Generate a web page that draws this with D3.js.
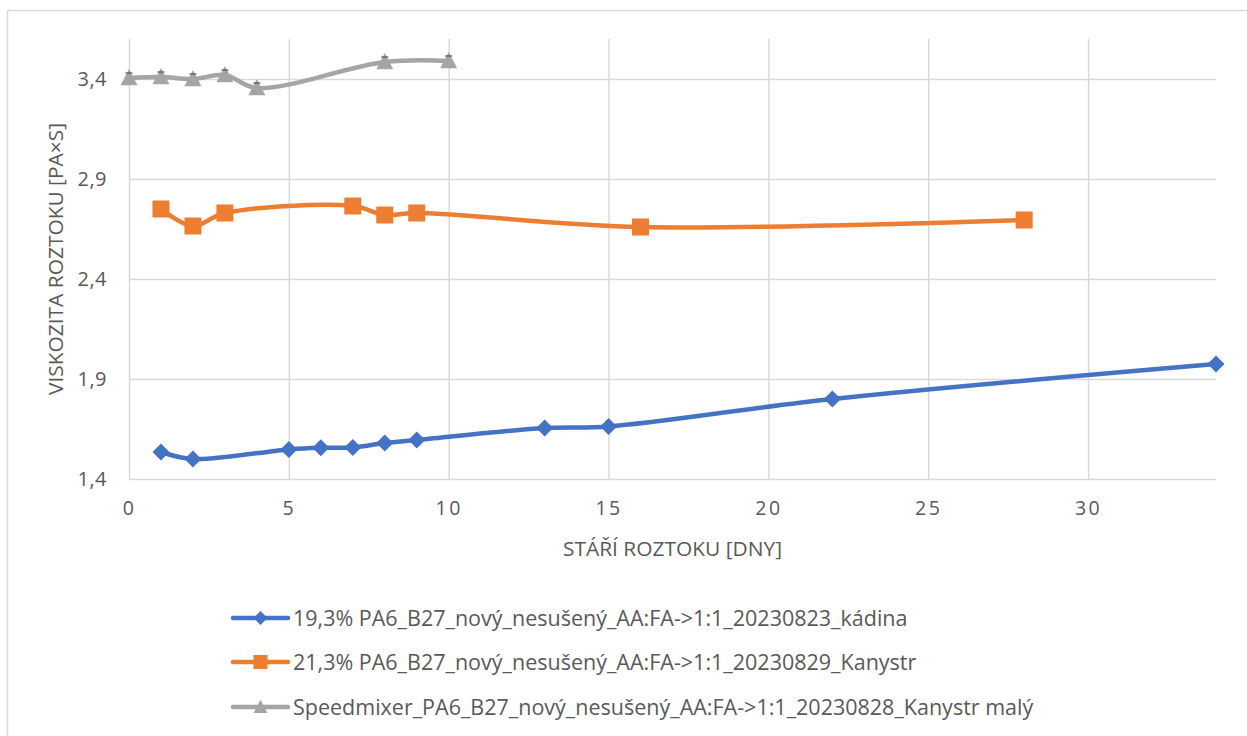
<!DOCTYPE html>
<html>
<head>
<meta charset="utf-8">
<script src="https://cdn.jsdelivr.net/npm/d3@7"></script>
<style>
  html, body { margin: 0; padding: 0; background: #fff; }
  svg { display: block; }
  text { font-family: "Open Sans", "Noto Sans", sans-serif; fill: #595959; }
</style>
</head>
<body>
<svg id="chart" width="1247" height="736"></svg>
<script>
// Age of solution (days) and measured viscosity (Pa·s) for each batch
const blueDays   = [1, 2, 5, 6, 7, 8, 9, 13, 15, 22, 34];
const blueVisc   = [1.535, 1.50, 1.548, 1.556, 1.558, 1.58, 1.595, 1.655, 1.663, 1.80, 1.975];
const orangeDays = [1, 2, 3, 7, 8, 9, 16, 28];
const orangeVisc = [2.75, 2.665, 2.73, 2.765, 2.72, 2.73, 2.66, 2.695];
const grayDays   = [0, 1, 2, 3, 4, 8, 10];
const grayVisc   = [3.405, 3.41, 3.40, 3.42, 3.355, 3.485, 3.49];

const seriesNames = [
  "19,3% PA6_B27_nový_nesušený_AA:FA->1:1_20230823_kádina",
  "21,3% PA6_B27_nový_nesušený_AA:FA->1:1_20230829_Kanystr",
  "Speedmixer_PA6_B27_nový_nesušený_AA:FA->1:1_20230828_Kanystr malý"
];
const xTicks = [0, 5, 10, 15, 20, 25, 30];
const yTicks = [1.4, 1.9, 2.4, 2.9, 3.4];
const xTitle = "STÁŘÍ ROZTOKU [DNY]";
const yTitle = "VISKOZITA ROZTOKU [PA×S]";

const series = [
  { name: seriesNames[0], days: blueDays,   visc: blueVisc,   color: "#4472C4", marker: "diamond" },
  { name: seriesNames[1], days: orangeDays, visc: orangeVisc, color: "#ED7D31", marker: "square" },
  { name: seriesNames[2], days: grayDays,   visc: grayVisc,   color: "#A5A5A5", marker: "triangle" }
];

const svg = d3.select("#chart");
const plot = { left: 129, right: 1216, top: 39, bottom: 479 };

const x = d3.scaleLinear().domain([0, 34]).range([plot.left, plot.right]);
const y = d3.scaleLinear().domain([1.4, 3.6]).range([plot.bottom, plot.top]);

const cz = d3.formatLocale({ decimal: ",", thousands: " ", grouping: [3], currency: ["", " Kč"] });
const fmt = cz.format(".1f");

// chart frame
svg.append("rect")
  .attr("x", 7.5).attr("y", 10.5)
  .attr("width", 1300).attr("height", 800)
  .attr("fill", "none").attr("stroke", "#D9D9D9").attr("stroke-width", 1.5);

// vertical gridlines
svg.append("g")
  .attr("transform", `translate(0,${plot.bottom})`)
  .call(d3.axisBottom(x).tickValues(xTicks).tickSize(-(plot.bottom - plot.top)).tickFormat(""))
  .call(g => g.select(".domain").remove())
  .call(g => g.selectAll("line").attr("stroke", "#D9D9D9").attr("stroke-width", 1.5));

// horizontal gridlines
svg.append("g")
  .attr("transform", `translate(${plot.left},0)`)
  .call(d3.axisLeft(y).tickValues(yTicks).tickSize(-(plot.right - plot.left)).tickFormat(""))
  .call(g => g.select(".domain").remove())
  .call(g => g.selectAll("line").attr("stroke", "#D9D9D9").attr("stroke-width", 1.5));

// x tick labels
svg.append("g")
  .attr("transform", `translate(0,${plot.bottom})`)
  .call(d3.axisBottom(x).tickValues(xTicks).tickSize(0).tickPadding(22).tickFormat(d3.format("d")))
  .call(g => g.select(".domain").remove())
  .call(g => g.selectAll("text")
    .attr("font-size", 19.5).attr("letter-spacing", 2.5)
    .attr("font-family", "'Open Sans', sans-serif").attr("fill", "#595959"));

// y tick labels
svg.append("g")
  .attr("transform", `translate(${plot.left},0)`)
  .call(d3.axisLeft(y).tickValues(yTicks).tickSize(0).tickPadding(22).tickFormat(fmt))
  .call(g => g.select(".domain").remove())
  .call(g => g.selectAll("text")
    .attr("font-size", 20).attr("letter-spacing", 0.5)
    .attr("font-family", "'Open Sans', sans-serif").attr("fill", "#595959"));

// axis titles
svg.append("text")
  .attr("x", (plot.left + plot.right) / 2).attr("y", 556)
  .attr("text-anchor", "middle").attr("font-size", 19.5)
  .attr("textLength", 219).attr("lengthAdjust", "spacingAndGlyphs")
  .text(xTitle);

svg.append("text")
  .attr("transform", `translate(63,${(plot.top + plot.bottom) / 2}) rotate(-90)`)
  .attr("text-anchor", "middle").attr("font-size", 19.5)
  .attr("textLength", 272).attr("lengthAdjust", "spacingAndGlyphs")
  .text(yTitle);

// marker shapes
function markerPath(type, s) {
  const h = s / 2;
  if (type === "diamond") return `M0,${-h}L${h},0L0,${h}L${-h},0Z`;
  if (type === "square") return `M${-h},${-h}H${h}V${h}H${-h}Z`;
  return `M0,${-h * 1.05}L${h},${h * 0.85}L${-h},${h * 0.85}Z`;
}

const line = d3.line()
  .x(d => x(d[0]))
  .y(d => y(d[1]))
  .curve(d3.curveCatmullRom.alpha(0.5));

series.forEach(s => {
  const pts = s.days.map((d, i) => [d, s.visc[i]]);
  const g = svg.append("g");
  g.append("path")
    .datum(pts)
    .attr("d", line)
    .attr("fill", "none")
    .attr("stroke", s.color)
    .attr("stroke-width", 4.5)
    .attr("stroke-linejoin", "round")
    .attr("stroke-linecap", "round");
  g.selectAll("path.m")
    .data(pts)
    .join("path")
    .attr("class", "m")
    .attr("transform", d => `translate(${x(d[0])},${y(d[1])})`)
    .attr("d", markerPath(s.marker, 17))
    .attr("fill", s.color);
  if (s.marker === "triangle") {
    // small error-bar caps at the apex of each triangle
    g.selectAll("line.cap")
      .data(pts)
      .join("line")
      .attr("class", "cap")
      .attr("x1", d => x(d[0]) - 3.5).attr("x2", d => x(d[0]) + 3.5)
      .attr("y1", d => y(d[1]) - 5).attr("y2", d => y(d[1]) - 5)
      .attr("stroke", "#555").attr("stroke-width", 1.2);
  }
});

// legend
const legendRows = [618, 662, 707];
series.forEach((s, i) => {
  const g = svg.append("g").attr("transform", `translate(0,${legendRows[i]})`);
  g.append("line")
    .attr("x1", 233).attr("x2", 288).attr("y1", 0).attr("y2", 0)
    .attr("stroke", s.color).attr("stroke-width", 4.5).attr("stroke-linecap", "round");
  g.append("path")
    .attr("transform", "translate(260.5,0)")
    .attr("d", markerPath(s.marker, 14))
    .attr("fill", s.color);
  g.append("text")
    .attr("x", 293).attr("y", 7.5)
    .attr("font-size", 21.5)
    .text(s.name);
});
</script>
</body>
</html>
